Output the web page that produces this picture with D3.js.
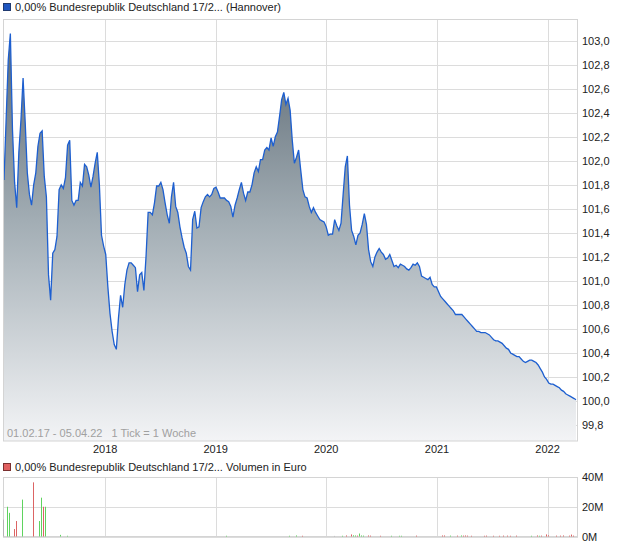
<!DOCTYPE html>
<html><head><meta charset="utf-8">
<script src="https://cdn.jsdelivr.net/npm/d3@7/dist/d3.min.js"></script>
<style>body{margin:0;background:#fff}svg{display:block;font-family:"Liberation Sans",Arial,sans-serif}</style>
</head><body><svg id="c" width="620" height="546"></svg>
<script>
// ---- data ----
const startDate = "2017-02-01";
const endDate = "2022-04-05";
const prices = [101.84,102.34,102.84,103.06,102.26,101.82,101.61,102.07,102.34,102.69,
102.32,101.90,101.72,101.63,101.80,101.90,102.12,102.23,102.25,101.87,
101.70,101.05,100.84,101.23,101.26,101.37,101.76,101.80,101.77,101.86,
102.13,102.17,101.67,101.63,101.67,101.67,101.82,101.79,101.97,101.95,
101.88,101.78,101.87,101.98,102.07,101.80,101.38,101.29,101.22,100.95,
100.73,100.58,100.47,100.43,100.69,100.88,100.78,100.97,101.09,101.15,
101.15,101.13,101.11,100.91,101.05,101.07,100.92,101.20,101.57,101.57,
101.55,101.65,101.79,101.79,101.82,101.76,101.65,101.55,101.48,101.70,
101.82,101.62,101.57,101.45,101.36,101.28,101.23,101.12,101.09,101.51,
101.58,101.44,101.45,101.61,101.66,101.70,101.72,101.70,101.72,101.77,
101.78,101.74,101.69,101.69,101.69,101.67,101.66,101.62,101.53,101.63,
101.69,101.76,101.82,101.73,101.67,101.74,101.74,101.80,101.90,101.95,
101.91,102.01,102.01,102.09,102.11,102.09,102.19,102.12,102.20,102.24,
102.37,102.51,102.57,102.47,102.52,102.42,102.17,101.98,102.03,102.09,
101.92,101.76,101.70,101.69,101.62,101.57,101.61,101.57,101.54,101.51,
101.50,101.49,101.45,101.38,101.39,101.39,101.51,101.46,101.42,101.48,
101.72,101.95,102.04,101.63,101.42,101.37,101.30,101.38,101.40,101.47,
101.56,101.47,101.26,101.16,101.12,101.20,101.24,101.27,101.24,101.22,
101.18,101.19,101.22,101.17,101.12,101.13,101.11,101.14,101.13,101.12,
101.10,101.09,101.11,101.14,101.13,101.15,101.12,101.04,101.03,101.02,
101.01,101.03,100.97,100.95,100.95,100.91,100.87,100.85,100.83,100.81,
100.79,100.77,100.75,100.72,100.72,100.72,100.72,100.70,100.68,100.66,
100.64,100.62,100.60,100.58,100.58,100.57,100.57,100.57,100.56,100.55,
100.53,100.51,100.50,100.50,100.49,100.48,100.46,100.44,100.43,100.40,
100.39,100.38,100.37,100.37,100.35,100.33,100.32,100.33,100.34,100.34,
100.33,100.32,100.30,100.27,100.24,100.20,100.18,100.15,100.14,100.14,
100.13,100.12,100.11,100.09,100.08,100.06,100.05,100.04,100.03,100.02,
100.01];
const priceTicks = [99.8,100.0,100.2,100.4,100.6,100.8,101.0,101.2,101.4,101.6,101.8,102.0,102.2,102.4,102.6,102.8,103.0];
// volume (million EUR): week index from start, value, direction
const volWeeks = [0,2,3,5,6,9,14,17,18,19,20,27,30,
105,135,138,141,156,160,162,164,165,166,167,168,169,170,172,173,178,183,187,188,195,
207,208,211,214,216,217,218,219,221,227,228,231,234,236,238,239,242,249,252,253,254,256,257,261,263,264,267,268,269];
const volumes = [11.3,20,15.9,5.0,10.4,24.8,36.4,10.4,26.1,20,20,1.1,0.5,
0.5,0.5,0.7,0.5,0.4,0.5,0.7,1.4,0.8,0.7,0.6,2.0,0.7,0.6,0.7,0.6,0.5,0.5,0.5,0.5,0.6,
0.7,0.7,0.6,0.6,0.7,0.6,0.7,0.6,0.5,0.5,0.6,0.5,0.5,0.6,0.6,0.5,0.6,0.5,0.7,0.5,0.6,1.4,0.8,0.6,0.6,0.7,0.6,1.3,0.6];
const volDir = ["n","u","u","d","d","u","d","u","u","d","u","u","u",
"u","u","u","d","n","u","d","d","u","u","d","u","u","u","d","d","d","u","u","u","d",
"d","d","u","d","u","d","d","d","d","d","d","d","d","d","d","d","d","u","d","u","d","d","d","d","d","d","d","d","d"];
const volTicks = [0,20,40];
const volTickLabels = ["0M","20M","40M"];
const titlePrice = "0,00% Bundesrepublik Deutschland 17/2... (Hannover)";
const titleVol = "0,00% Bundesrepublik Deutschland 17/2... Volumen in Euro";
const rangeNote = "01.02.17 - 05.04.22   1 Tick = 1 Woche";

// ---- chart ----
const svg = d3.select("#c");
const parse = d3.timeParse("%Y-%m-%d");
const t0 = parse(startDate), t1 = parse(endDate);
const dates = prices.map((p,i)=> i===prices.length-1 ? t1 : d3.timeDay.offset(t0, 7*i));
const series = prices.map((p,i)=>({d:dates[i], v:p}));

const L = 3, R = 578, pTop = 19.5, pBot = 441;
const x = d3.scaleTime().domain([t0,t1]).range([4,576]);
const y = d3.scaleLinear().domain([99.8,103.0]).range([425,40.7]);
const years = x.ticks(d3.timeYear.every(1)).filter(d=>d>t0);

const grid = "#dcdcdc";
// price panel gridlines
const g = svg.append("g");
g.selectAll("line.h").data(priceTicks).join("line")
  .attr("x1",L).attr("x2",R).attr("y1",d=>Math.round(y(d))+0.5).attr("y2",d=>Math.round(y(d))+0.5)
  .attr("stroke",grid);
g.selectAll("line.v").data(years).join("line")
  .attr("x1",d=>Math.round(x(d))+0.5).attr("x2",d=>Math.round(x(d))+0.5).attr("y1",pTop).attr("y2",pBot)
  .attr("stroke",grid);

const defs = svg.append("defs");
const grad = defs.append("linearGradient").attr("id","ag").attr("gradientUnits","userSpaceOnUse")
  .attr("x1",0).attr("x2",0).attr("y1",40).attr("y2",pBot);
grad.append("stop").attr("offset","0").attr("stop-color","#5d6a74");
grad.append("stop").attr("offset","0.45").attr("stop-color","#a2adb4");
grad.append("stop").attr("offset","1").attr("stop-color","#f3f4f6");

const area = d3.area().x(d=>x(d.d)).y0(pBot).y1(d=>y(d.v));
svg.append("path").datum(series).attr("d",area).attr("fill","url(#ag)");
const line = d3.line().x(d=>x(d.d)).y(d=>y(d.v));
svg.append("path").datum(series).attr("d",line).attr("fill","none").attr("stroke","#1d5fd0").attr("stroke-width",1.3);

// frame
svg.append("rect").attr("x",L+0.5).attr("y",pTop).attr("width",R-L-1).attr("height",pBot-pTop)
  .attr("fill","none").attr("stroke","#d4d4d4");

// y labels
svg.append("g").selectAll("text").data(priceTicks).join("text")
  .attr("x",582).attr("y",d=>y(d)+4).attr("font-size",11).attr("fill","#222")
  .text(d=>d3.format(".1f")(d).replace(".",","));
// year labels
svg.append("g").selectAll("text").data(years).join("text")
  .attr("x",d=>x(d)).attr("y",453).attr("text-anchor","middle").attr("font-size",11).attr("fill","#222")
  .text(d=>d3.timeFormat("%Y")(d));
svg.append("text").attr("x",7).attr("y",437).attr("font-size",11).attr("fill","#a0a0a0")
  .attr("xml:space","preserve").style("white-space","pre").text(rangeNote);

// legends
svg.append("rect").attr("x",3.5).attr("y",3.5).attr("width",7).attr("height",7).attr("fill","#1f56c0").attr("stroke","#203a70");
svg.append("text").attr("x",15).attr("y",11).attr("font-size",11).attr("fill","#222").text(titlePrice);
svg.append("rect").attr("x",3.5).attr("y",463.5).attr("width",7).attr("height",7).attr("fill","#e06060").attr("stroke","#7a3030");
svg.append("text").attr("x",15).attr("y",471).attr("font-size",11).attr("fill","#222").text(titleVol);

// volume panel
const vTop = 477, vBot = 536.5;
const yv = d3.scaleLinear().domain([0,40]).range([vBot,vTop]);
const vg = svg.append("g");
vg.selectAll("line.h").data(volTicks).join("line")
  .attr("x1",L).attr("x2",R).attr("y1",d=>Math.round(yv(d))+0.5).attr("y2",d=>Math.round(yv(d))+0.5).attr("stroke",grid);
vg.selectAll("line.v").data(years).join("line")
  .attr("x1",d=>Math.round(x(d))+0.5).attr("x2",d=>Math.round(x(d))+0.5).attr("y1",vTop).attr("y2",vBot).attr("stroke",grid);
svg.append("rect").attr("x",L+0.5).attr("y",vTop+0.5).attr("width",R-L-1).attr("height",vBot-vTop-0.5)
  .attr("fill","none").attr("stroke","#d4d4d4");
const col = {u:"#5fd35f", d:"#dc6464", n:"#b4b4b4"};
svg.append("g").selectAll("rect").data(volWeeks.map((w,i)=>({d:d3.timeDay.offset(t0,7*w), v:volumes[i], c:volDir[i]})))
  .join("rect")
  .attr("x",d=>Math.round(x(d.d))-1).attr("width",1)
  .attr("y",d=>yv(d.v)).attr("height",d=>vBot-yv(d.v)).attr("fill",d=>col[d.c]);
svg.append("g").selectAll("text").data(volTicks).join("text")
  .attr("x",582).attr("y",d=>yv(d)+4).attr("font-size",11).attr("fill","#222")
  .text((d,i)=>volTickLabels[i]);
</script></body></html>
